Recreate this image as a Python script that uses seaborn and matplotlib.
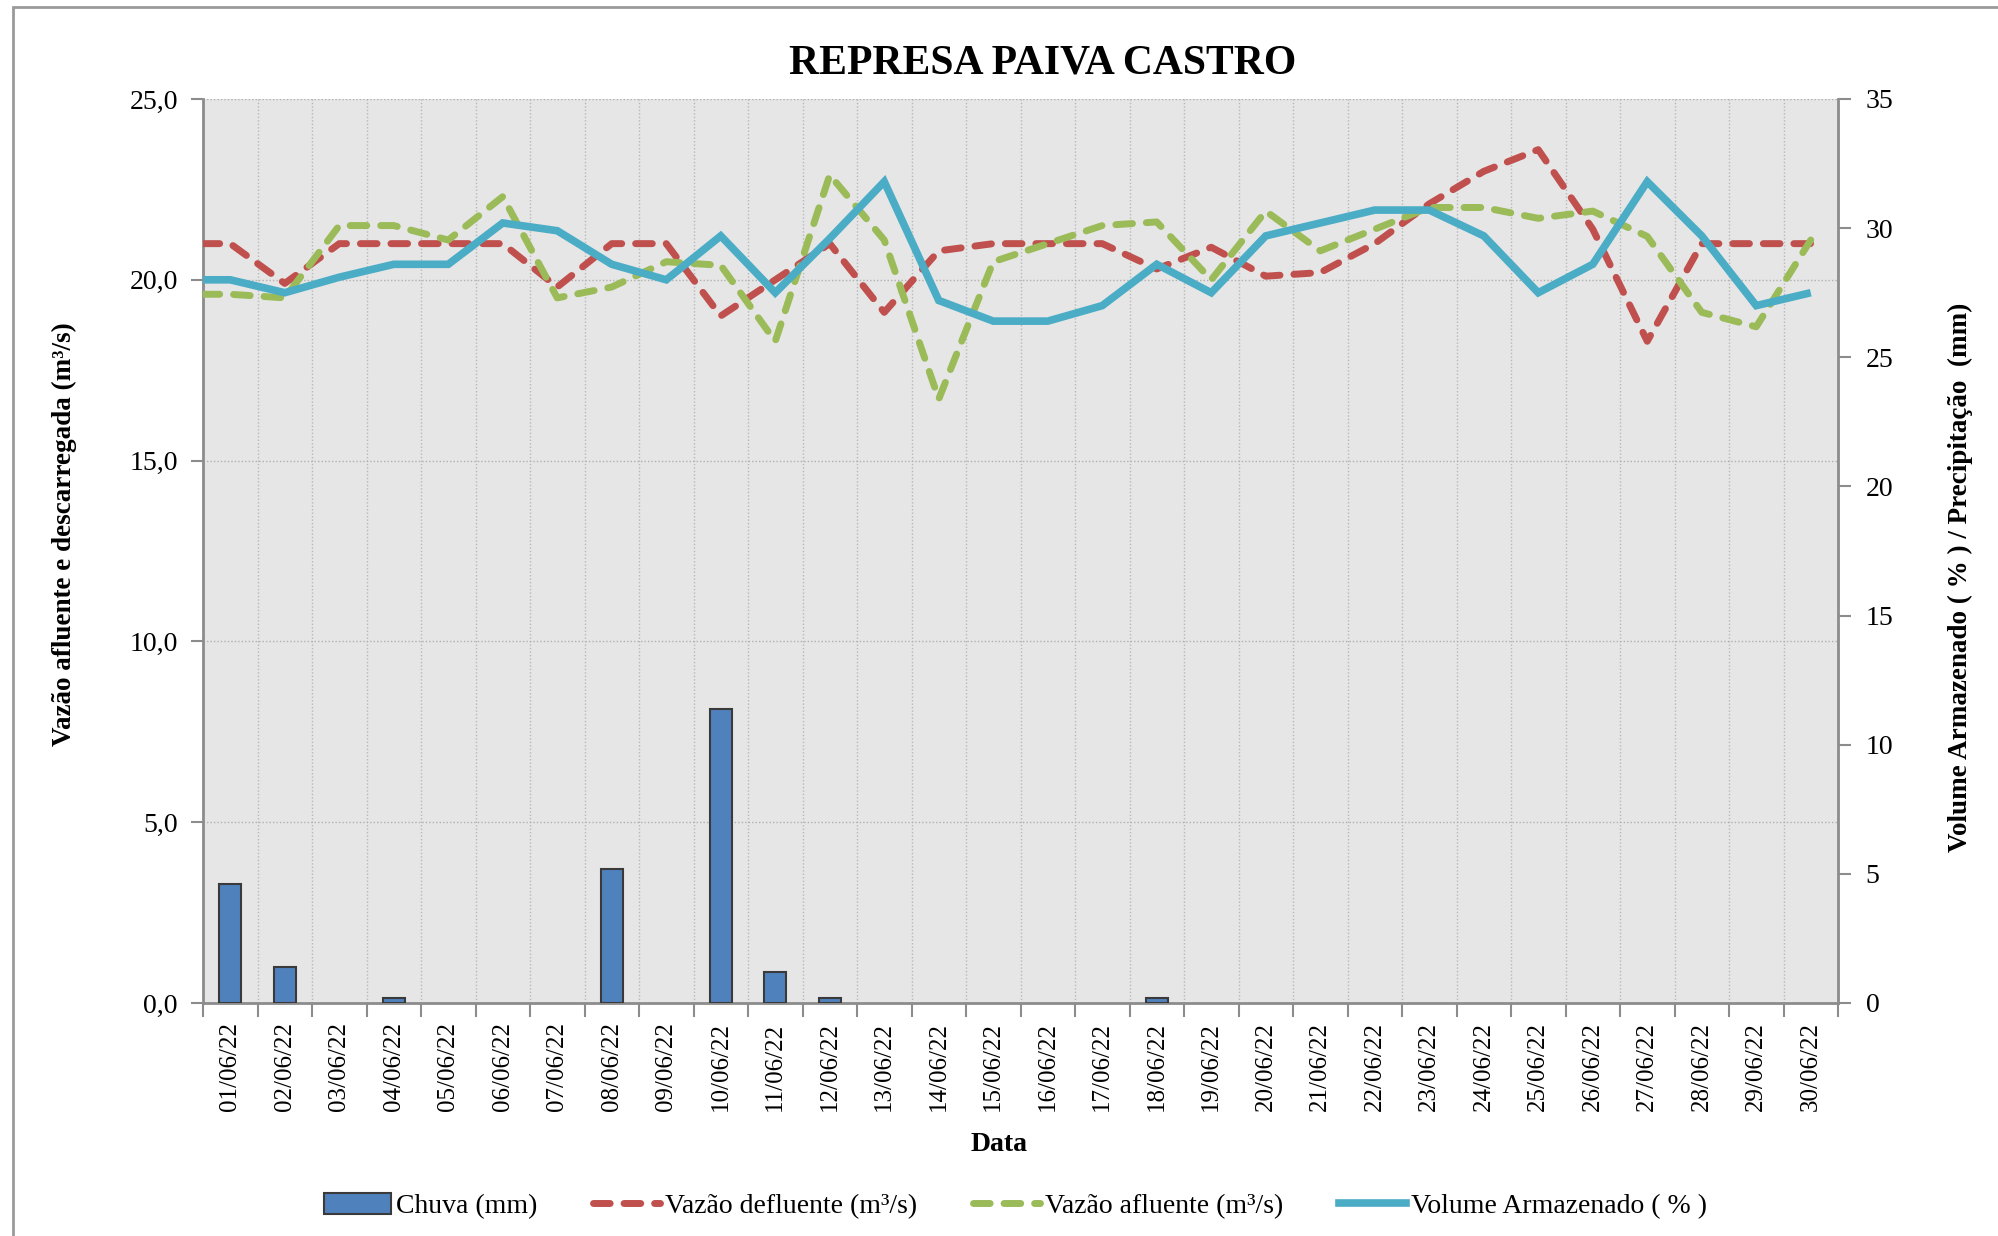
import numpy as np
import pandas as pd
import matplotlib
matplotlib.use("Agg")
import matplotlib.pyplot as plt
import seaborn as sns
from matplotlib.patches import Rectangle, Patch
from matplotlib.lines import Line2D

# ---------------- data ----------------
dates = ["%02d/06/22" % d for d in range(1, 31)]
chuva = [4.6, 1.4, 0, 0.2, 0, 0, 0, 5.2, 0, 11.4, 1.2, 0.2, 0, 0, 0,
         0, 0, 0.2, 0, 0, 0, 0, 0, 0, 0, 0, 0, 0, 0, 0]
vazao_defluente = [21.0, 19.9, 21.0, 21.0, 21.0, 21.0, 19.8, 21.0, 21.0, 19.0,
                   20.0, 21.0, 19.1, 20.8, 21.0, 21.0, 21.0, 20.3, 20.9, 20.1,
                   20.2, 21.0, 22.1, 23.0, 23.6, 21.4, 18.3, 21.0, 21.0, 21.0]
vazao_afluente = [19.6, 19.5, 21.5, 21.5, 21.1, 22.3, 19.5, 19.8, 20.5, 20.4,
                  18.3, 22.9, 21.1, 16.7, 20.5, 21.0, 21.5, 21.6, 20.0, 21.9,
                  20.8, 21.4, 22.0, 22.0, 21.7, 21.9, 21.2, 19.1, 18.7, 21.1]
volume = [28.0, 27.5, 28.1, 28.6, 28.6, 30.2, 29.9, 28.6, 28.0, 29.7,
          27.5, 29.6, 31.8, 27.2, 26.4, 26.4, 27.0, 28.6, 27.5, 29.7,
          30.2, 30.7, 30.7, 29.7, 27.5, 28.6, 31.8, 29.7, 27.0, 27.5]
left_ticks = [0, 5, 10, 15, 20, 25]
left_ticklabels = ["0,0", "5,0", "10,0", "15,0", "20,0", "25,0"]
right_ticks = [0, 5, 10, 15, 20, 25, 30, 35]
right_ticklabels = ["0", "5", "10", "15", "20", "25", "30", "35"]

title = "REPRESA PAIVA CASTRO"
xlabel = "Data"
ylabel_left = "Vazão afluente e descarregada (m³/s)"
ylabel_right = "Volume Armazenado ( % ) / Precipitação  (mm)"
lbl_chuva = "Chuva (mm)"
lbl_def = "Vazão defluente (m³/s)"
lbl_afl = "Vazão afluente (m³/s)"
lbl_vol = "Volume Armazenado ( % )"

# ---------------- style ----------------
FONT = ["Liberation Serif", "DejaVu Serif"]
plt.rcParams["font.family"] = FONT
C_BAR = "#4F81BD"
C_RED = "#C0504D"
C_GREEN = "#9BBB59"
C_BLUE = "#4BACC6"
BG = "#E6E6E6"
SPINE = "#8C8C8C"

df = pd.DataFrame({"Data": dates, "Chuva": chuva})
n = len(dates)
xpos = np.arange(n)
# lines start at the left plot border with the first day's value
xl = np.r_[-0.5, xpos]

fig = plt.figure(figsize=(19.99, 12.36), dpi=100)
ax = fig.add_axes([203 / 1999, 1 - 1003 / 1236, (1838 - 203) / 1999, (1003 - 99) / 1236])
ax.set_facecolor(BG)
ax2 = ax.twinx()
ax2.patch.set_visible(False)

# bars on right axis
sns.barplot(data=df, x="Data", y="Chuva", order=dates, ax=ax2, color=C_BAR,
            width=0.4, edgecolor="#3A3A3A", linewidth=1.5, saturation=1, zorder=2)
for p in ax2.patches:
    if p.get_height() <= 0:
        p.set_visible(False)

dash = (2.4, 2.0)
sns.lineplot(x=xl, y=np.r_[vazao_defluente[0], vazao_defluente], ax=ax, color=C_RED,
             linewidth=5, zorder=3)
ax.lines[-1].set_dashes(dash)
ax.lines[-1].set_dash_capstyle("round")
sns.lineplot(x=xl, y=np.r_[vazao_afluente[0], vazao_afluente], ax=ax, color=C_GREEN,
             linewidth=5, zorder=3)
ax.lines[-1].set_dashes(dash)
ax.lines[-1].set_dash_capstyle("round")
sns.lineplot(x=xl, y=np.r_[volume[0], volume], ax=ax2, color=C_BLUE,
             linewidth=5.5, zorder=4)
ax2.lines[-1].set_solid_capstyle("butt")
ax2.lines[-1].set_solid_joinstyle("miter")

ax.set_xlim(-0.5, n - 0.5)
ax2.set_xlim(-0.5, n - 0.5)
ax.set_ylim(0, 25)
ax2.set_ylim(0, 35)

# ticks
ax.set_yticks(left_ticks)
ax.set_yticklabels(left_ticklabels)
ax2.set_yticks(right_ticks)
ax2.set_yticklabels(right_ticklabels)
ax.set_xticks(xpos)
ax.set_xticklabels(dates, rotation=90)
ax.set_xticks(np.arange(n + 1) - 0.5, minor=True)
ax.tick_params(axis="x", which="major", length=0, pad=14, labelsize=18)
ax.tick_params(axis="x", which="minor", length=10, width=1.5, color=SPINE, direction="out")
ax.tick_params(axis="y", length=9, width=1.5, color=SPINE, pad=9, labelsize=20)
ax2.tick_params(axis="y", length=9, width=1.5, color=SPINE, pad=11, labelsize=20)
ax2.set_xlabel("")
ax2.set_ylabel("")

# grids
ax.grid(False)
ax2.grid(False)
for yv in left_ticks[1:]:
    ax.axhline(yv, color="#B0B0B0", linestyle=(0, (1, 1.5)), linewidth=1.0, zorder=1)
ax.grid(axis="x", which="minor", color="#B8B8B8", linestyle=(0, (1, 1.5)), linewidth=1.0)
ax.set_axisbelow(True)

for a in (ax, ax2):
    for s in a.spines.values():
        s.set_visible(False)
ax.spines["left"].set_visible(True)
ax.spines["bottom"].set_visible(True)
ax2.spines["right"].set_visible(True)
for s in (ax.spines["left"], ax.spines["bottom"], ax2.spines["right"]):
    s.set_color(SPINE)
    s.set_linewidth(2)

# labels
fig.text(1043 / 1999, 1 - 64 / 1236, title, ha="center", va="center", fontsize=30,
         fontweight="bold", family=FONT)
ax.set_xlabel(xlabel, fontsize=20, fontweight="bold")
ax.xaxis.set_label_coords(0.487, -0.143)
fig.text(64 / 1999, 1 - 534 / 1236, ylabel_left, rotation=90, ha="center", va="center",
         fontsize=19.5, fontweight="bold", family=FONT)
fig.text(1960 / 1999, 1 - 577 / 1236, ylabel_right, rotation=90, ha="center", va="center",
         fontsize=19.5, fontweight="bold", family=FONT)

# legend
handles = [
    Patch(facecolor=C_BAR, edgecolor="#3A3A3A", linewidth=1.5),
    Line2D([], [], color=C_RED, linewidth=5, dashes=dash, dash_capstyle="round"),
    Line2D([], [], color=C_GREEN, linewidth=5, dashes=dash, dash_capstyle="round"),
    Line2D([], [], color=C_BLUE, linewidth=5.5),
]
fig.legend(handles, [lbl_chuva, lbl_def, lbl_afl, lbl_vol], loc="center",
           bbox_to_anchor=(0.508, 1 - 1206 / 1236), ncol=4, frameon=False,
           fontsize=20, handlelength=2.4, handleheight=0.8, handletextpad=0.2,
           columnspacing=2.0)

# outer border
fig.patches.append(Rectangle((13 / 1999, -0.1), 1.2, 1 - 7 / 1236 + 0.1,
                             transform=fig.transFigure, fill=False,
                             edgecolor="#9A9A9A", linewidth=2))

fig.savefig("out.png", dpi=100)
